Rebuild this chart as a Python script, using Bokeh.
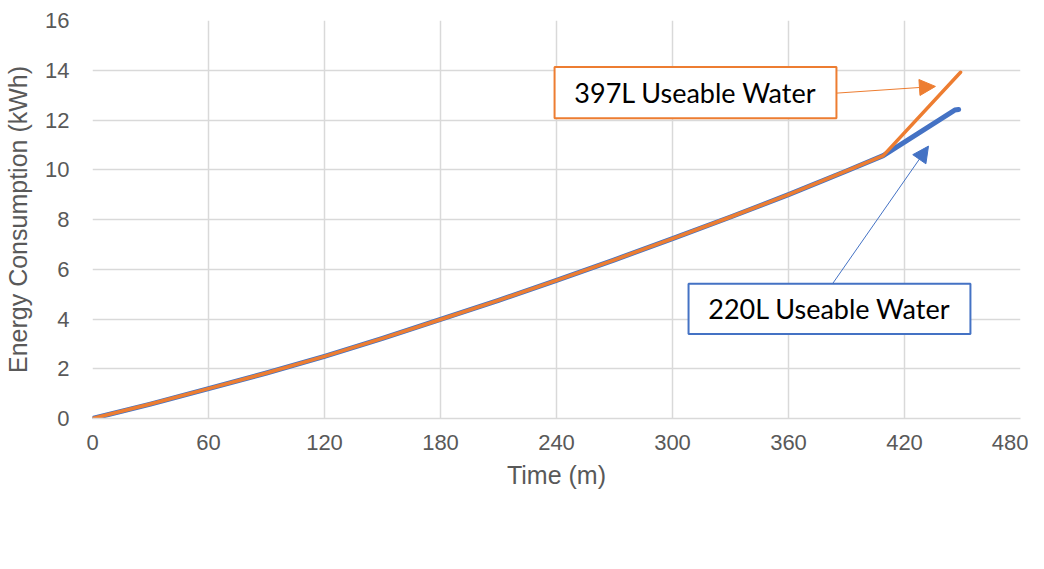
from bokeh.plotting import figure
from bokeh.models import (Range1d, SingleIntervalTicker, Legend, LegendItem, BoxAnnotation,
                          Label, Arrow, NormalHead)
from bokeh.embed import file_html
from bokeh.resources import INLINE

# Data (minutes, kWh)
time_c1 = [0, 30, 60, 90, 120, 150, 180, 210, 240, 270, 300, 330, 360, 390, 409, 446, 448]
energy_c1 = [0, 0.58, 1.2, 1.83, 2.5, 3.22, 3.98, 4.75, 5.55, 6.38, 7.23, 8.1, 9.0, 9.95, 10.57, 12.4, 12.42]
time_c2 = [0, 30, 60, 90, 120, 150, 180, 210, 240, 270, 300, 330, 360, 390, 409, 449]
energy_c2 = [0, 0.58, 1.2, 1.83, 2.5, 3.22, 3.98, 4.75, 5.55, 6.38, 7.23, 8.1, 9.0, 9.95, 10.57, 13.92]
series_names = ["Configuartion 1 (kWh)", "Configuration 2 (kWh)"]

note_texts = ["397L Useable Water", "220L Useable Water"]
# annotation boxes (data units): left, right, bottom, top
note_boxes = [(239.0, 384.8, 12.07, 14.13), (308.3, 454.1, 3.40, 5.42)]
# arrows: x_start, y_start, x_end, y_end
note_arrows = [(384.8, 13.08, 436.0, 13.35), (382.8, 5.42, 432.4, 10.95)]

BLUE = "#4472C4"
ORANGE = "#ED7D31"
GRAY = "#595959"
GRID = "#D9D9D9"

p = figure(frame_width=928, frame_height=398, output_backend="svg", toolbar_location=None,
           x_range=Range1d(0, 480), y_range=Range1d(0, 16),
           min_border_left=92, min_border_right=8, min_border_top=20, min_border_bottom=0)
p.outline_line_color = None

r1 = p.line(time_c1, energy_c1, line_color=BLUE, line_width=5, line_cap="round", line_join="round")
r2 = p.line(time_c2, energy_c2, line_color=ORANGE, line_width=3.5, line_cap="round", line_join="round")

p.xaxis.ticker = SingleIntervalTicker(interval=60)
p.yaxis.ticker = SingleIntervalTicker(interval=2)
for ax in (p.xaxis[0], p.yaxis[0]):
    ax.major_tick_line_color = None
    ax.minor_tick_line_color = None
    ax.major_label_text_font = "Liberation Sans"
    ax.major_label_text_font_size = "22px"
    ax.major_label_text_color = GRAY
    ax.axis_label_text_font = "Liberation Sans"
    ax.axis_label_text_font_style = "normal"
    ax.axis_label_text_color = GRAY
p.xaxis.axis_label_text_font_size = "25px"
p.yaxis.axis_label_text_font_size = "25px"
p.xaxis.axis_line_color = GRID
p.xaxis.axis_line_width = 1.5
p.yaxis.axis_line_color = None
p.xaxis.axis_label = "Time (m)"
p.yaxis.axis_label = "Energy Consumption (kWh)"
p.xaxis.major_label_standoff = 10
p.yaxis.major_label_standoff = 17
p.xaxis.axis_label_standoff = 8
p.yaxis.axis_label_standoff = 10

p.xgrid.grid_line_color = GRID
p.ygrid.grid_line_color = GRID
p.xgrid.grid_line_width = 1.5
p.ygrid.grid_line_width = 1.5

colors = [ORANGE, BLUE]
for (l, r, b, t), txt, c, (xs, ys, xe, ye) in zip(note_boxes, note_texts, colors, note_arrows):
    p.add_layout(BoxAnnotation(left=l, right=r, bottom=b, top=t, fill_color="white", fill_alpha=1,
                               line_color=c, line_alpha=1, line_width=2))
    p.add_layout(Label(x=(l + r) / 2, y=(b + t) / 2, text=txt, text_align="center",
                       text_baseline="middle", text_font="Lato", text_font_size="27px",
                       text_color="black"))
    p.add_layout(Arrow(x_start=xs, y_start=ys, x_end=xe, y_end=ye, line_color=c, line_width=1,
                       end=NormalHead(size=16, fill_color=c, line_color=c)))

legend = Legend(items=[LegendItem(label=series_names[0], renderers=[r1]),
                       LegendItem(label=series_names[1], renderers=[r2])],
                orientation="horizontal", location="top_center",
                label_text_font="Liberation Sans", label_text_font_size="19px",
                label_text_color=GRAY, glyph_width=42, glyph_height=22,
                spacing=38, label_standoff=4, padding=0, margin=4,
                border_line_color=None, background_fill_alpha=0)
p.add_layout(legend, "below")

open("out.html", "w").write(file_html(p, INLINE))
